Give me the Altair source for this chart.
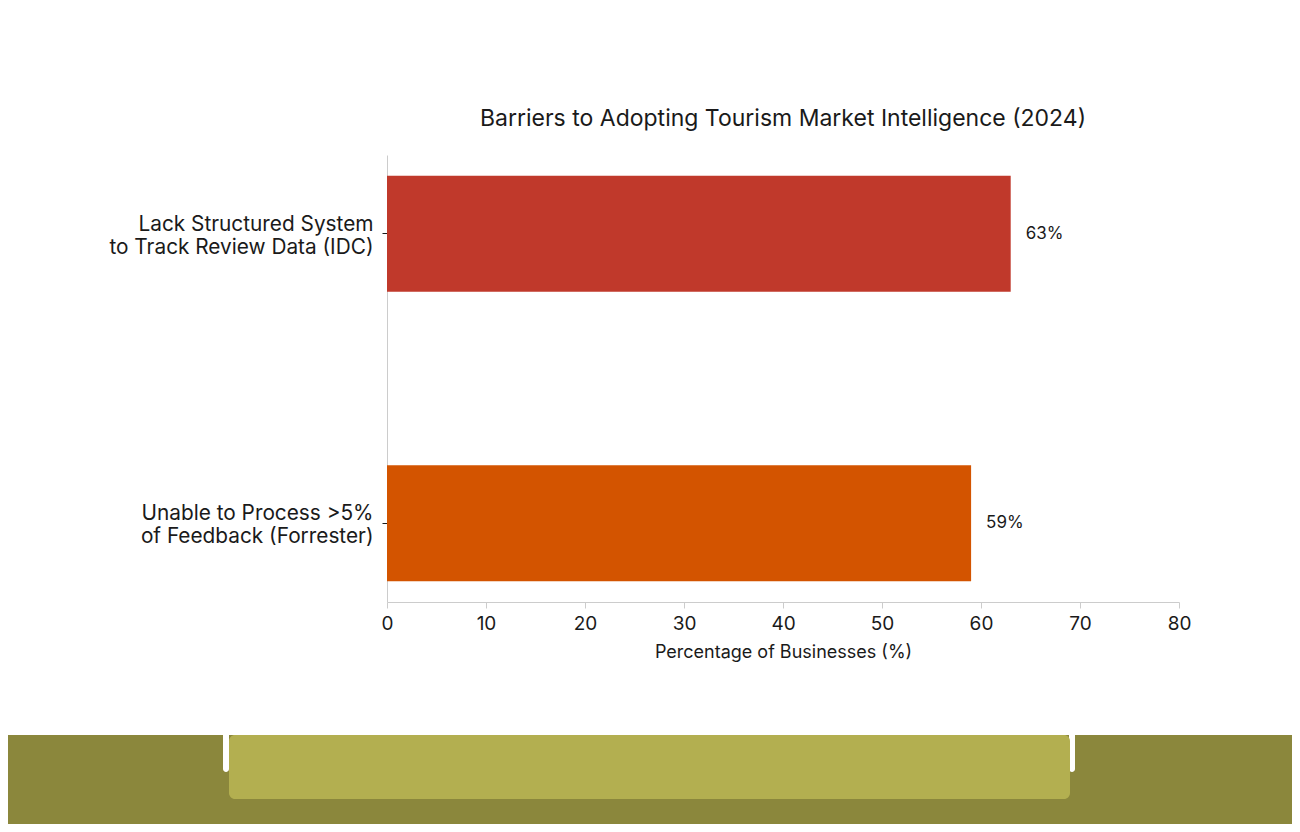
import altair as alt
import pandas as pd

# 資料：兩項障礙與占比
categories = [
    "Lack Structured System|to Track Review Data (IDC)",
    "Unable to Process >5%|of Feedback (Forrester)",
]
values = [63, 59]
bar_colors = ["#C0392B", "#D35400"]
x_ticks = [0, 10, 20, 30, 40, 50, 60, 70, 80]

FONT = "Inter"
TEXT = "#1a1a1a"

df = pd.DataFrame(
    {
        "barrier": categories,
        "pct": values,
        "label": [f"{v}%" for v in values],
    }
)

y_enc = alt.Y(
    "barrier:N",
    sort=categories,
    title=None,
    scale=alt.Scale(paddingInner=0.6, paddingOuter=0.072),
    axis=alt.Axis(
        labelExpr="split(datum.label, '|')",
        labelFontSize=20.8,
        labelLineHeight=23,
        labelColor=TEXT,
        labelPadding=9,
        labelOffset=-9,
        labelLimit=0,
        tickSize=5,
        tickColor=TEXT,
        domainColor="#cccccc",
        labelFont=FONT,
    ),
)
x_enc = alt.X(
    "pct:Q",
    title="Percentage of Businesses (%)",
    scale=alt.Scale(domain=[0, 80], nice=False),
    axis=alt.Axis(
        values=x_ticks,
        grid=False,
        labelFontSize=19,
        labelColor=TEXT,
        labelFont=FONT,
        labelFlush=False,
        labelPadding=6,
        tickSize=6,
        tickColor="#cccccc",
        domainColor="#cccccc",
        titleFontSize=18,
        titleFont=FONT,
        titleFontWeight="normal",
        titleColor=TEXT,
        titlePadding=10,
    ),
)

bars = (
    alt.Chart(df)
    .mark_bar()
    .encode(
        x=x_enc,
        y=y_enc,
        color=alt.Color(
            "barrier:N",
            scale=alt.Scale(domain=categories, range=bar_colors),
            legend=None,
        ),
    )
)

labels = (
    alt.Chart(df)
    .mark_text(align="left", baseline="middle", dx=15, fontSize=17, font=FONT, color=TEXT)
    .encode(x="pct:Q", y=alt.Y("barrier:N", sort=categories), text="label:N")
)

# 頁面底部的橄欖色裝飾帶（純裝飾，非資料）
deco = pd.DataFrame({"k": [0]})
band_dark = alt.Chart(deco).mark_rect(color="#8B873C").encode(
    x=alt.value(-387), x2=alt.value(913), y=alt.value(580), y2=alt.value(677)
)
gaps = [
    alt.Chart(deco).mark_rect(color="white", cornerRadius=3).encode(
        x=alt.value(x0), x2=alt.value(x0 + 6), y=alt.value(575), y2=alt.value(617)
    )
    for x0 in (-164, 682)
]
band_light = alt.Chart(deco).mark_rect(color="#B3AF50", cornerRadius=6).encode(
    x=alt.value(-158), x2=alt.value(683), y=alt.value(580), y2=alt.value(644)
)

chart = (
    alt.layer(band_dark, *gaps, band_light, bars, labels)
    .properties(
        width=792,
        height=447,
        background="white",
        autosize=alt.AutoSizeParams(type="none"),
        padding={"left": 379, "top": 147, "right": 113, "bottom": 222},
        title=alt.TitleParams(
            "Barriers to Adopting Tourism Market Intelligence (2024)",
            fontSize=23,
            font=FONT,
            fontWeight="normal",
            color=TEXT,
            offset=24,
            anchor="middle",
            frame="group",
        ),
    )
    .configure_view(stroke=None, strokeWidth=0)
)

chart.save("out.html", embed_options={"renderer": "svg", "actions": False})
